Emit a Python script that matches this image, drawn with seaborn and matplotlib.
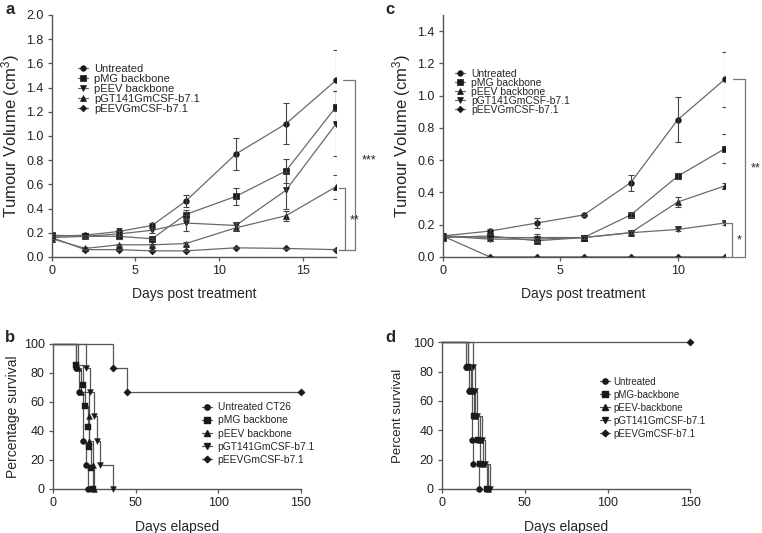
import numpy as np
import pandas as pd
import matplotlib
matplotlib.use("Agg")
import matplotlib.pyplot as plt
import seaborn as sns

# ---------------- data ----------------
groups_a = ["Untreated", "pMG backbone", "pEEV backbone", "pGT141GmCSF-b7.1", "pEEVGmCSF-b7.1"]
days_a = [0, 2, 4, 6, 8, 11, 14, 17]
a_untreated = [0.17, 0.18, 0.21, 0.26, 0.46, 0.85, 1.10, 1.46]
a_untreated_err = [0.01, 0.01, 0.03, 0.02, 0.05, 0.13, 0.17, 0.25]
a_pmg = [0.18, 0.17, 0.17, 0.15, 0.35, 0.50, 0.71, 1.24]
a_pmg_err = [0.01, 0.01, 0.02, 0.01, 0.04, 0.07, 0.10, 0.13]
a_peev = [0.16, 0.17, 0.19, 0.22, 0.28, 0.26, 0.55, 1.10]
a_peev_err = [0.01, 0.01, 0.02, 0.02, 0.07, 0.02, 0.15, 0.27]
a_pgt = [0.15, 0.07, 0.10, 0.10, 0.11, 0.24, 0.34, 0.58]
a_pgt_err = [0.01, 0.01, 0.01, 0.01, 0.01, 0.02, 0.04, 0.10]
a_peevgm = [0.16, 0.06, 0.06, 0.05, 0.05, 0.075, 0.07, 0.06]
a_peevgm_err = [0.01, 0.005, 0.005, 0.005, 0.005, 0.005, 0.005, 0.005]

groups_c = ["Untreated", "pMG backbone", "pEEV backbone", "pGT141GmCSF-b7.1", "pEEVGmCSF-b7.1"]
days_c = [0, 2, 4, 6, 8, 10, 12]
c_untreated = [0.13, 0.16, 0.21, 0.26, 0.46, 0.85, 1.10]
c_untreated_err = [0.01, 0.01, 0.03, 0.005, 0.05, 0.14, 0.17]
c_pmg = [0.12, 0.13, 0.10, 0.12, 0.26, 0.50, 0.67]
c_pmg_err = [0.01, 0.01, 0.01, 0.01, 0.01, 0.02, 0.09]
c_peev = [0.13, 0.12, 0.12, 0.12, 0.15, 0.34, 0.44]
c_peev_err = [0.01, 0.01, 0.02, 0.01, 0.01, 0.03, 0.02]
c_pgt = [0.13, 0.11, 0.11, 0.12, 0.15, 0.17, 0.21]
c_pgt_err = [0.01, 0.01, 0.01, 0.01, 0.01, 0.01, 0.01]
c_peevgm = [0.13, 0.0, 0.0, 0.0, 0.0, 0.0, 0.0]
c_peevgm_err = [0.0, 0.0, 0.0, 0.0, 0.0, 0.0, 0.0]

groups_b = ["Untreated CT26", "pMG backbone", "pEEV backbone", "pGT141GmCSF-b7.1", "pEEVGmCSF-b7.1"]
b_times = [[14, 16, 18, 20, 21],
           [14, 18, 19.5, 21, 22, 23, 24],
           [15, 17, 21.5, 22, 24, 25],
           [20, 22.5, 24.5, 26.5, 28.5, 36],
           [36, 45, 150]]
b_surv = [[83.3, 66.7, 33.3, 16.7, 0],
          [85.7, 71.4, 57.1, 42.9, 28.6, 14.3, 0],
          [83.3, 66.7, 50, 33.3, 16.7, 0],
          [83.3, 66.7, 50, 33.3, 16.7, 0],
          [83.3, 66.7, 66.7]]

groups_d = ["Untreated", "pMG-backbone", "pEEV-backbone", "pGT141GmCSF-b7.1", "pEEVGmCSF-b7.1"]
d_times = [[14.5, 16.5, 18.3, 19, 22.5],
           [16, 17.5, 19.5, 22, 23, 27],
           [16, 18, 20, 23, 25, 28],
           [19, 20, 21, 24, 26, 29],
           [150]]
d_surv = [[83.3, 66.7, 33.3, 16.7, 0],
          [83.3, 66.7, 50, 33.3, 16.7, 0],
          [83.3, 66.7, 50, 33.3, 16.7, 0],
          [83.3, 66.7, 50, 33.3, 16.7, 0],
          [100]]

markers_a = ["o", "s", "v", "^", "D"]
markers_c = ["o", "s", "^", "v", "D"]
markers_surv = ["o", "s", "^", "v", "D"]

# ---------------- style ----------------
sns.set_theme(style="ticks")
plt.rcParams["font.family"] = ["Liberation Sans", "DejaVu Sans"]
plt.rcParams["mathtext.default"] = "regular"
LINE = "#6a6a6a"
AX = "#555555"

fig = plt.figure(figsize=(7.62, 5.33), dpi=100)
ax_a = fig.add_axes([0.068, 0.518, 0.373, 0.454])
ax_c = fig.add_axes([0.581, 0.518, 0.370, 0.454])
ax_b = fig.add_axes([0.0696, 0.0826, 0.3254, 0.2724])
ax_d = fig.add_axes([0.580, 0.0826, 0.326, 0.2755])


def style_axes(ax):
    sns.despine(ax=ax)
    for s in ("left", "bottom"):
        ax.spines[s].set_color(AX)
        ax.spines[s].set_linewidth(1.0)
    ax.tick_params(axis="both", colors=AX, labelcolor="#222222", labelsize=9,
                   length=3, width=0.9, pad=3)


def tumour_panel(ax, days, groups, means, errs, markers, ms):
    for g, m, e, mk in zip(groups, means, errs, markers):
        df = pd.DataFrame({"day": days, "vol": m})
        sns.lineplot(data=df, x="day", y="vol", ax=ax, color=LINE, lw=0.9,
                     marker=mk, markersize=ms if mk != "D" else ms - 0.6,
                     markerfacecolor="k", markeredgecolor="k",
                     markeredgewidth=0.5, label=g)
        ax.errorbar(days, m, yerr=e, fmt="none", ecolor="#444444",
                    elinewidth=0.8, capsize=2, capthick=0.8)


tumour_panel(ax_a, days_a, groups_a,
             [a_untreated, a_pmg, a_peev, a_pgt, a_peevgm],
             [a_untreated_err, a_pmg_err, a_peev_err, a_pgt_err, a_peevgm_err],
             markers_a, 4)
ax_a.set_xlim(0, 17)
ax_a.set_ylim(0, 2.0)
ax_a.set_xticks([0, 5, 10, 15])
ax_a.set_yticks(np.arange(0, 2.01, 0.2))
ax_a.set_yticklabels([f"{v:.1f}" for v in np.arange(0, 2.01, 0.2)])
ax_a.set_xlabel("Days post treatment", fontsize=10, labelpad=7)
ax_a.set_ylabel("Tumour Volume (cm$^3$)", fontsize=12, labelpad=3)
style_axes(ax_a)
ax_a.legend(loc="upper left", bbox_to_anchor=(0.075, 0.815), frameon=False,
            fontsize=8, handlelength=0.9, handletextpad=0.6,
            labelspacing=0.0, borderaxespad=0)

# brackets panel a
kw = dict(color="#777777", lw=0.9, clip_on=False)
ax_a.plot([17.4, 18.15, 18.15, 17.2], [1.46, 1.46, 0.06, 0.06], **kw)
ax_a.plot([17.15, 17.55, 17.55, 17.15], [0.57, 0.57, 0.06, 0.06], **kw)
ax_a.text(18.55, 0.8, "***", fontsize=9, ha="left", va="center", clip_on=False)
ax_a.text(17.8, 0.30, "**", fontsize=9, ha="left", va="center", clip_on=False)

tumour_panel(ax_c, days_c, groups_c,
             [c_untreated, c_pmg, c_peev, c_pgt, c_peevgm],
             [c_untreated_err, c_pmg_err, c_peev_err, c_pgt_err, c_peevgm_err],
             markers_c, 4)
ax_c.set_xlim(0, 12)
ax_c.set_ylim(0, 1.5)
ax_c.set_xticks([0, 5, 10])
ax_c.set_yticks(np.arange(0, 1.41, 0.2))
ax_c.set_yticklabels([f"{v:.1f}" for v in np.arange(0, 1.41, 0.2)])
ax_c.set_xlabel("Days post treatment", fontsize=10, labelpad=7)
ax_c.set_ylabel("Tumour Volume (cm$^3$)", fontsize=12, labelpad=3)
style_axes(ax_c)
ax_c.legend(loc="upper left", bbox_to_anchor=(0.03, 0.795), frameon=False,
            fontsize=7.5, handlelength=0.9, handletextpad=0.6,
            labelspacing=-0.1, borderaxespad=0)
ax_c.plot([12.35, 12.85, 12.85, 12.35], [1.10, 1.10, 0.0, 0.0], **kw)
ax_c.plot([11.85, 12.3, 12.3, 11.85], [0.21, 0.21, 0.0, 0.0], **kw)
ax_c.text(13.1, 0.55, "**", fontsize=9, ha="left", va="center", clip_on=False)
ax_c.text(12.5, 0.10, "*", fontsize=9, ha="left", va="center", clip_on=False)


def survival_panel(ax, groups, times, survs, markers):
    for g, t, s, mk in zip(groups, times, survs, markers):
        tt = [0] + list(t)
        ss = [100] + list(s)
        df = pd.DataFrame({"t": tt, "s": ss})
        sns.lineplot(data=df, x="t", y="s", ax=ax, color="#555555", lw=0.9,
                     drawstyle="steps-post", clip_on=False)
        pts = pd.DataFrame({"t": t, "s": s})
        sns.scatterplot(data=pts, x="t", y="s", ax=ax, marker=mk,
                        s=18 if mk != "D" else 14, color="k", edgecolor="k",
                        linewidth=0.3, clip_on=False, zorder=3)
        ax.plot([], [], color="#555555", lw=0.9, marker=mk,
                ms=3.8 if mk != "D" else 3.3, mfc="k", mec="k", label=g)
    ax.set_xlim(0, 150)
    ax.set_ylim(0, 100)
    ax.set_xticks([0, 50, 100, 150])
    ax.set_yticks(np.arange(0, 101, 20))
    ax.set_xlabel("Days elapsed", fontsize=10, labelpad=8)
    style_axes(ax)


survival_panel(ax_b, groups_b, b_times, b_surv, markers_surv)
ax_b.set_ylabel("Percentage survival", fontsize=10, labelpad=3)
ax_b.legend(loc="upper left", bbox_to_anchor=(0.585, 0.625), frameon=False,
            fontsize=7.4, handlelength=1.0, handletextpad=0.5,
            labelspacing=0.3, borderaxespad=0)

survival_panel(ax_d, groups_d, d_times, d_surv, markers_surv)
ax_d.set_ylabel("Percent survival", fontsize=9.5, labelpad=6)
ax_d.legend(loc="upper left", bbox_to_anchor=(0.62, 0.79), frameon=False,
            fontsize=7.0, handlelength=1.0, handletextpad=0.4,
            labelspacing=0.3, borderaxespad=0)

# panel letters
for lab, x, y in [("a", 5, 10), ("c", 385, 10), ("b", 5, 337), ("d", 385, 337)]:
    fig.text(x / 762, 1 - y / 533, lab, fontsize=12, fontweight="bold",
             ha="left", va="center")

fig.savefig("out.png", dpi=100)
